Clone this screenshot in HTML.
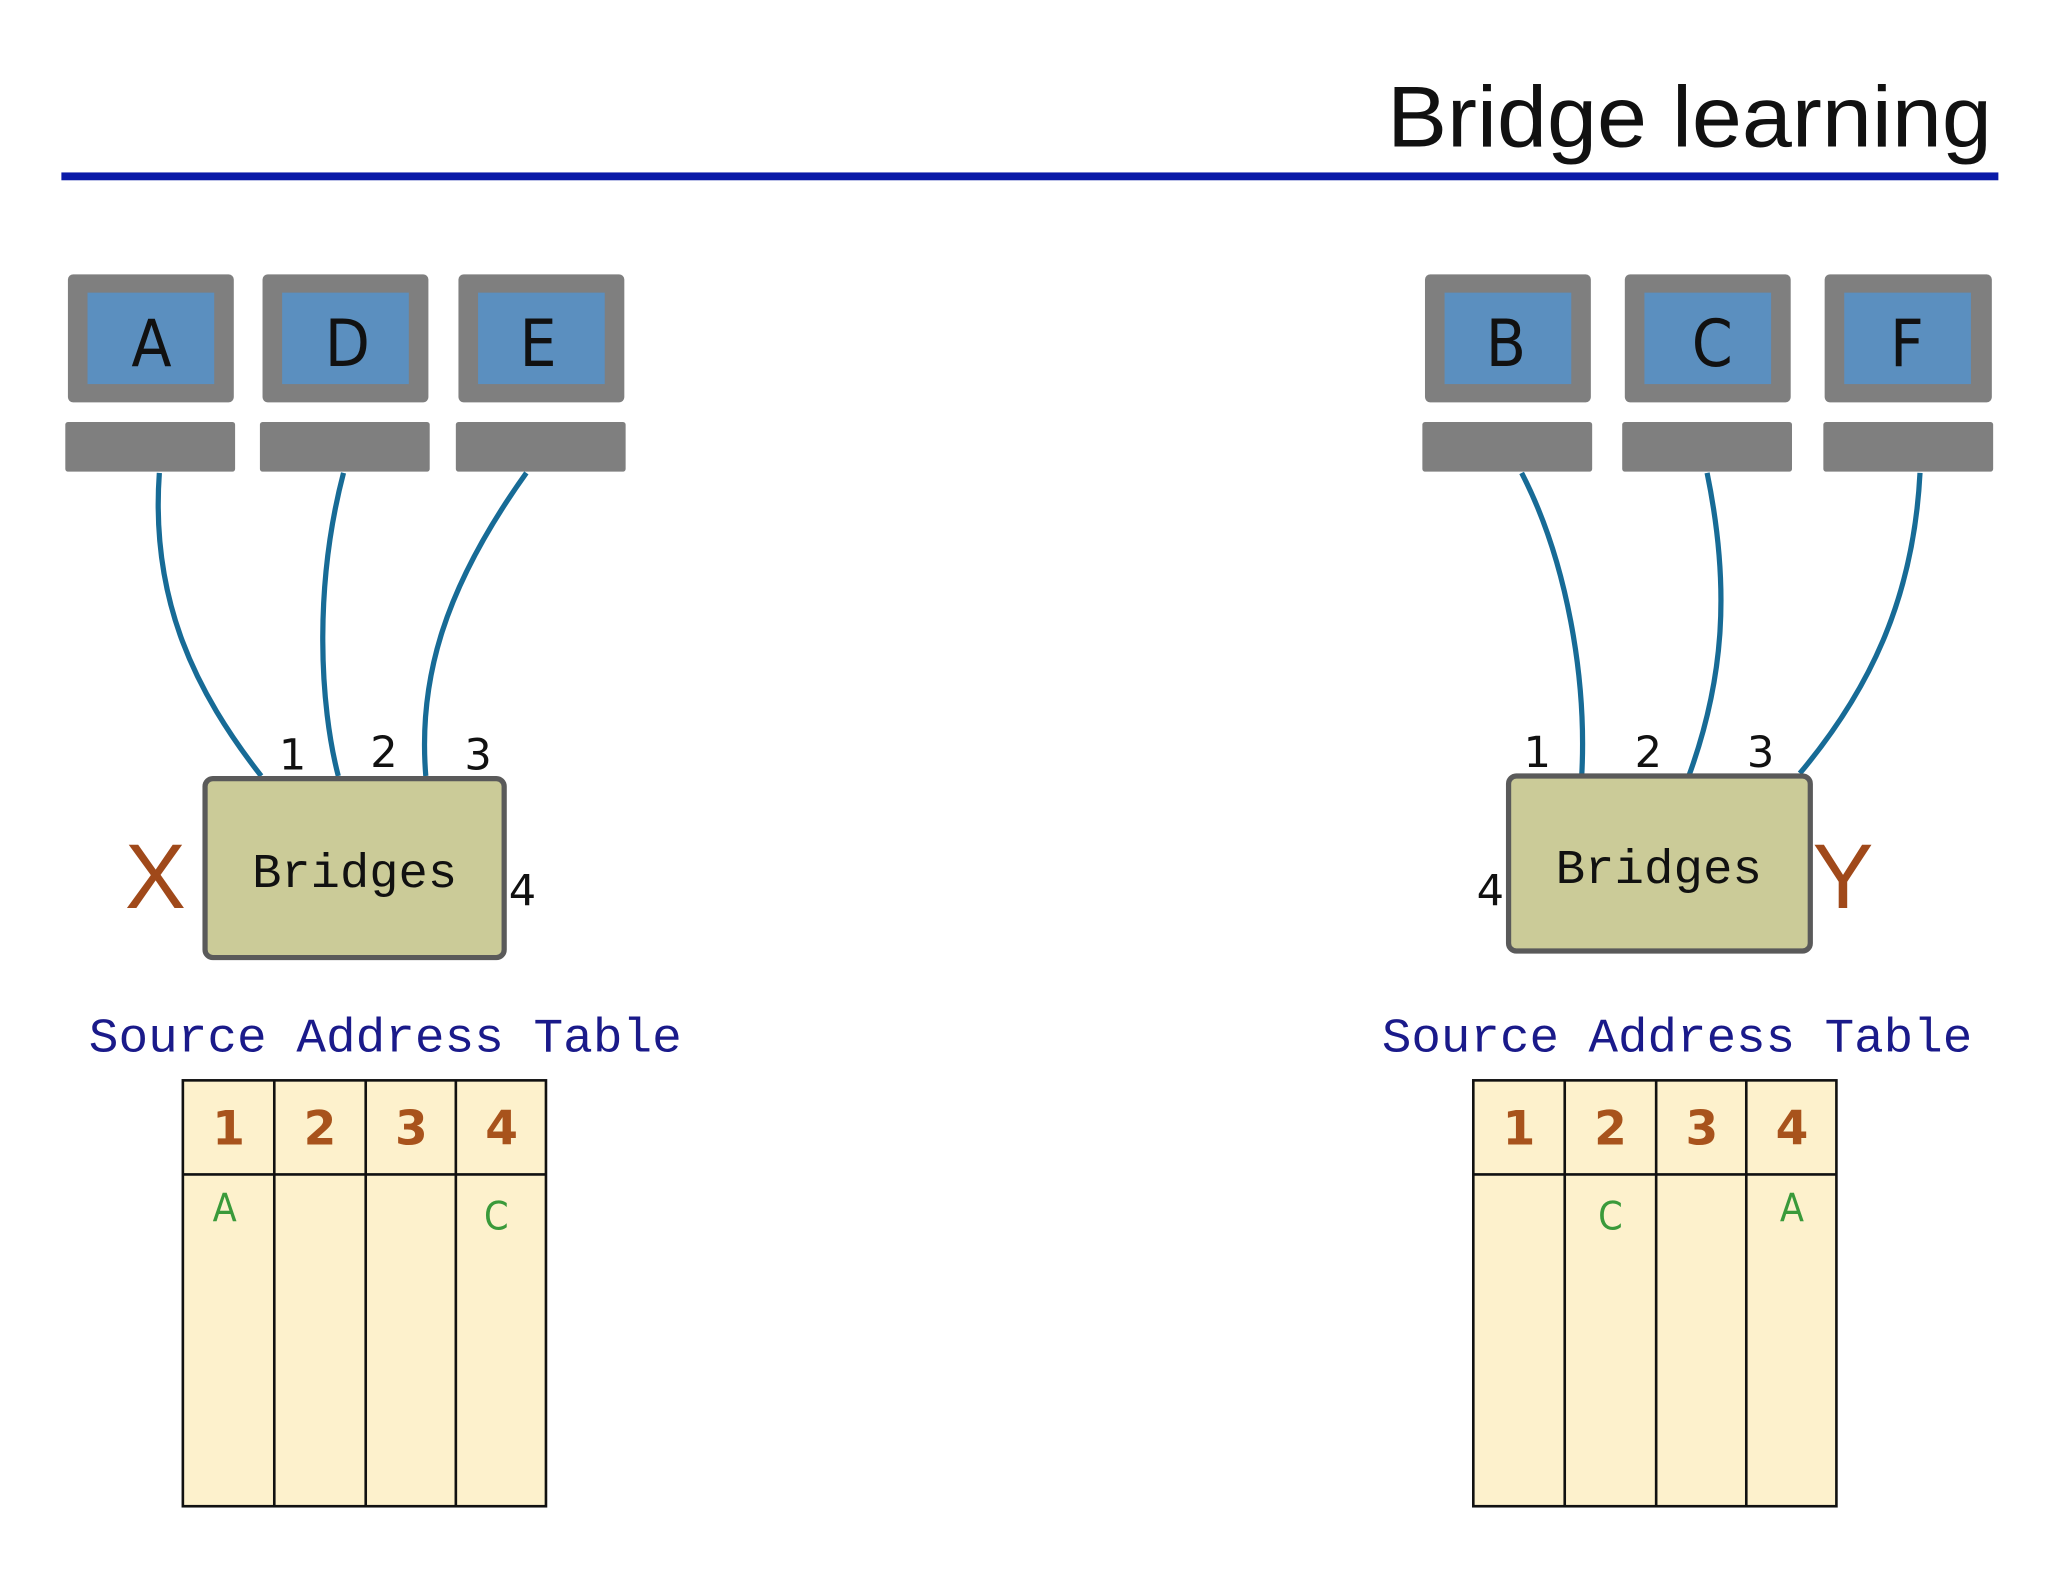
<!DOCTYPE html>
<html><head><meta charset="utf-8"><style>html,body{margin:0;padding:0;background:#fff}svg{display:block}</style></head>
<body>
<svg width="2048" height="1582" viewBox="0 0 1568 1211" preserveAspectRatio="none" xmlns="http://www.w3.org/2000/svg">
<rect width="1568" height="1211" fill="#fff"/>
<text x="1525" y="112" text-anchor="end" font-family="Liberation Sans, sans-serif" font-size="66" fill="#111" textLength="463" lengthAdjust="spacingAndGlyphs">Bridge learning</text>
<rect x="47" y="132" width="1483" height="6" fill="#0a1aa8"/>
<g fill="#7f7f7f">
<rect x="52" y="210" width="127" height="98" rx="4"/><rect x="201" y="210" width="127" height="98" rx="4"/><rect x="351" y="210" width="127" height="98" rx="4"/>
<rect x="1091" y="210" width="127" height="98" rx="4"/><rect x="1244" y="210" width="127" height="98" rx="4"/><rect x="1397" y="210" width="128" height="98" rx="4"/>
<rect x="50" y="323" width="130" height="38" rx="2"/><rect x="199" y="323" width="130" height="38" rx="2"/><rect x="349" y="323" width="130" height="38" rx="2"/>
<rect x="1089" y="323" width="130" height="38" rx="2"/><rect x="1242" y="323" width="130" height="38" rx="2"/><rect x="1396" y="323" width="130" height="38" rx="2"/>
</g>
<g fill="#5b8fbf">
<rect x="67" y="224" width="97" height="70"/><rect x="216" y="224" width="97" height="70"/><rect x="366" y="224" width="97" height="70"/>
<rect x="1106" y="224" width="97" height="70"/><rect x="1259" y="224" width="97" height="70"/><rect x="1412" y="224" width="97" height="70"/>
</g>
<g font-family="DejaVu Sans Condensed, DejaVu Sans, sans-serif" font-size="50" text-anchor="middle" fill="#111">
<text x="116" y="280">A</text><text x="266" y="280">D</text><text x="412" y="280">E</text>
<text x="1153" y="280">B</text><text x="1311" y="280">C</text><text x="1460" y="280">F</text>
</g>
<g fill="none" stroke="#176b96" stroke-width="4">
<path d="M122 362 C115 460 150 530 200 594"/>
<path d="M263 362 C240 450 245 540 259 594"/>
<path d="M403 362 C340 450 320 520 326 594"/>
<path d="M1165 362 C1200 430 1215 520 1211 594"/>
<path d="M1307 362 C1325 450 1320 520 1293 594"/>
<path d="M1470 362 C1465 460 1430 530 1378 592"/>
</g>
<rect x="157" y="596" width="229" height="137" rx="6" fill="#cbcb98" stroke="#5a5a5a" stroke-width="4"/>
<rect x="1155" y="594" width="231" height="134" rx="6" fill="#cbcb98" stroke="#5a5a5a" stroke-width="4"/>
<g font-family="Liberation Mono, monospace" font-size="37" fill="#111">
<text x="193" y="679" textLength="157" lengthAdjust="spacingAndGlyphs">Bridges</text>
<text x="1191" y="676" textLength="158" lengthAdjust="spacingAndGlyphs">Bridges</text>
</g>
<g font-family="DejaVu Sans, sans-serif" font-size="33" fill="#111" text-anchor="middle">
<text x="224" y="589">1</text><text x="294" y="587">2</text><text x="366" y="589">3</text><text x="400" y="693">4</text>
<text x="1177" y="587">1</text><text x="1262" y="587">2</text><text x="1348" y="587">3</text><text x="1141" y="693">4</text>
</g>
<g font-family="Liberation Sans, sans-serif" font-size="70" fill="#a0491a" text-anchor="middle">
<text x="119" y="695">X</text><text x="1411" y="695">Y</text>
</g>
<g font-family="Liberation Mono, monospace" font-size="37" fill="#1a1a8a">
<text x="68" y="805" textLength="454" lengthAdjust="spacingAndGlyphs">Source Address Table</text>
<text x="1058" y="805" textLength="452" lengthAdjust="spacingAndGlyphs">Source Address Table</text>
</g>
<g stroke="#111" stroke-width="2" fill="#fdf1cc">
<rect x="140" y="827" width="278" height="326"/>
<line x1="140" y1="899" x2="418" y2="899"/><line x1="210" y1="827" x2="210" y2="1153"/><line x1="280" y1="827" x2="280" y2="1153"/><line x1="349" y1="827" x2="349" y2="1153"/>
<rect x="1128" y="827" width="278" height="326"/>
<line x1="1128" y1="899" x2="1406" y2="899"/><line x1="1198" y1="827" x2="1198" y2="1153"/><line x1="1268" y1="827" x2="1268" y2="1153"/><line x1="1337" y1="827" x2="1337" y2="1153"/>
</g>
<g font-family="DejaVu Sans, sans-serif" font-size="36" font-weight="600" fill="#a8531c" text-anchor="middle">
<text x="175" y="876">1</text><text x="245" y="876">2</text><text x="315" y="876">3</text><text x="384" y="876">4</text>
<text x="1163" y="876">1</text><text x="1233" y="876">2</text><text x="1303" y="876">3</text><text x="1372" y="876">4</text>
</g>
<g font-family="DejaVu Sans Condensed, DejaVu Sans, sans-serif" font-size="30" fill="#3a9a3a" text-anchor="middle">
<text x="172" y="935">A</text><text x="380" y="941">C</text>
<text x="1233" y="941">C</text><text x="1372" y="935">A</text>
</g>
</svg>
</body></html>
